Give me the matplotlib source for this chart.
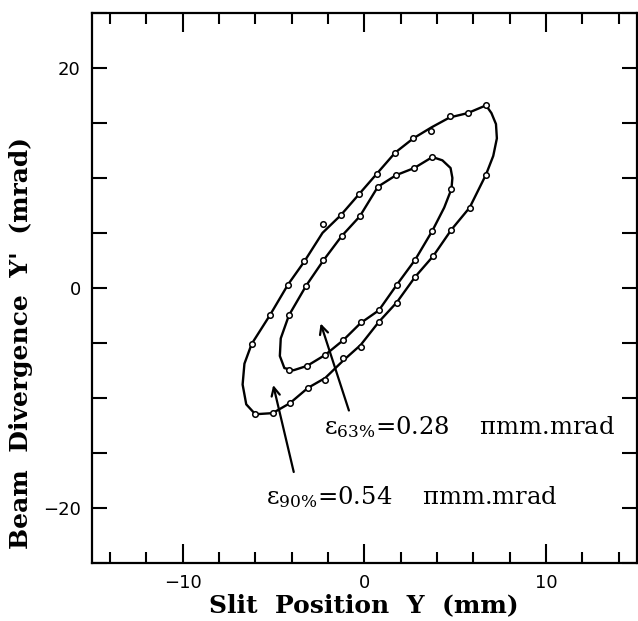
import matplotlib
matplotlib.use('Agg')
import matplotlib.pyplot as plt
from matplotlib.ticker import MultipleLocator, FixedLocator

# --- data ---
# outer contour (90%): measured points (open circles)
outer_x = [6.7, 5.7, 4.7, 3.7, 2.7, 1.7, 0.7, -0.3, -1.3, -2.3, -3.3, -4.2, -5.2, -6.2,
           -6.0, -5.05, -4.1, -3.1, -2.15, -1.15, -0.2, 0.8, 1.8, 2.8, 3.8, 4.8, 5.8, 6.7]
outer_y = [16.6, 15.9, 15.6, 14.3, 13.6, 12.3, 10.4, 8.5, 6.6, 5.8, 2.4, 0.3, -2.5, -5.1,
           -11.5, -11.4, -10.5, -9.1, -8.4, -6.4, -5.4, -3.1, -1.4, 1.0, 2.9, 5.3, 7.3, 10.3]
# hand-traced line of the outer contour (not every circle sits exactly on it)
outer_line_x = [6.7, 5.7, 4.7, 3.7, 2.7, 1.7, 0.7, -0.3, -1.3, -2.3, -3.3, -4.2, -5.2, -6.2,
                -6.6, -6.7, -6.5, -6.0, -5.05, -4.1, -3.1, -2.15, -1.15, -0.2, 0.8, 1.8, 2.8,
                3.8, 4.8, 5.8, 6.7, 7.1, 7.3, 7.25, 7.0, 6.7]
outer_line_y = [16.6, 15.9, 15.5, 14.6, 13.6, 12.3, 10.4, 8.5, 6.6, 5.0, 2.4, 0.3, -2.5, -5.1,
                -6.9, -8.8, -10.6, -11.5, -11.4, -10.5, -9.1, -8.2, -6.6, -5.2, -3.1, -1.3, 1.0,
                2.9, 5.3, 7.3, 10.3, 12.0, 13.6, 14.9, 15.9, 16.6]

# inner contour (63%)
inner_x = [3.75, 4.8, 3.75, 2.8, 1.8, 0.8, -0.2, -1.15, -2.15, -3.15, -4.15,
           -4.15, -3.2, -2.25, -1.25, -0.25, 0.75, 1.75, 2.75]
inner_y = [11.9, 9.0, 5.2, 2.55, 0.3, -2.05, -3.1, -4.75, -6.1, -7.1, -7.5,
           -2.5, 0.2, 2.5, 4.7, 6.5, 9.2, 10.25, 10.9]
inner_line_x = [3.75, 4.3, 4.75, 4.85, 4.8, 4.4, 3.75, 2.8, 1.8, 0.8, -0.2, -1.15, -2.15,
                -3.15, -3.9, -4.4, -4.65, -4.6, -4.15, -3.2, -2.25, -1.25, -0.25, 0.75,
                1.75, 2.75, 3.75]
inner_line_y = [11.9, 11.6, 10.9, 10.0, 9.0, 7.3, 5.2, 2.55, 0.3, -2.05, -3.2, -4.75, -6.1,
                -7.1, -7.5, -7.3, -6.2, -4.6, -2.5, 0.2, 2.5, 4.7, 6.5, 9.2, 10.25, 10.9, 11.9]

# arrows: (tail, head)
arrow63 = ((-0.8, -11.4), (-2.45, -3.0))
arrow90 = ((-3.85, -17.0), (-5.05, -8.6))

label63 = r"$\mathregular{\epsilon_{63\%}}$=0.28    $\mathregular{\pi}$mm.mrad"
label90 = r"$\mathregular{\epsilon_{90\%}}$=0.54    $\mathregular{\pi}$mm.mrad"

plt.rcParams['font.family'] = 'serif'
plt.rcParams['font.serif'] = ['DejaVu Serif']
plt.rcParams['mathtext.fontset'] = 'custom'
plt.rcParams['mathtext.rm'] = 'DejaVu Serif'
plt.rcParams['mathtext.it'] = 'DejaVu Serif:italic'

fig = plt.figure(figsize=(6.38, 6.21), dpi=100)
ax = fig.add_axes([0.144, 0.094, 0.854, 0.885])

ax.plot(outer_line_x, outer_line_y, color='black', lw=1.7)
ax.plot(outer_x, outer_y, 'o', ms=4, mfc='white', mec='black', mew=1.1)
ax.plot(inner_line_x, inner_line_y, color='black', lw=1.7)
ax.plot(inner_x, inner_y, 'o', ms=4, mfc='white', mec='black', mew=1.1)

for tail, head in (arrow63, arrow90):
    ax.annotate('', xy=head, xytext=tail,
                arrowprops=dict(arrowstyle='->,head_length=0.6,head_width=0.3',
                                color='black', lw=1.6))

ax.text(-2.2, -12.7, label63, fontsize=17.5, va='center', ha='left')
ax.text(-5.4, -19.0, label90, fontsize=17.5, va='center', ha='left')

ax.set_xlim(-15, 15)
ax.set_ylim(-25, 25)
ax.xaxis.set_major_locator(FixedLocator([-10, 0, 10]))
ax.xaxis.set_minor_locator(MultipleLocator(2))
ax.yaxis.set_major_locator(FixedLocator([-20, 0, 20]))
ax.yaxis.set_minor_locator(MultipleLocator(5))
ax.tick_params(which='both', direction='in', top=True, right=True, width=1.5,
               labelsize=13, pad=8)
ax.tick_params(axis='x', which='major', length=14)
ax.tick_params(axis='x', which='minor', length=8)
ax.tick_params(axis='y', which='both', length=11)
for lab in ax.get_xticklabels() + ax.get_yticklabels():
    lab.set_family('DejaVu Sans')
for s in ax.spines.values():
    s.set_linewidth(1.6)

ax.set_xlabel("Slit  Position  Y  (mm)", fontsize=18, fontweight='bold', labelpad=1)
ax.set_ylabel("Beam  Divergence  Y'  (mrad)", fontsize=18, fontweight='bold')
ax.yaxis.set_label_coords(-0.108, 0.40)

fig.savefig("out.png", dpi=100)
